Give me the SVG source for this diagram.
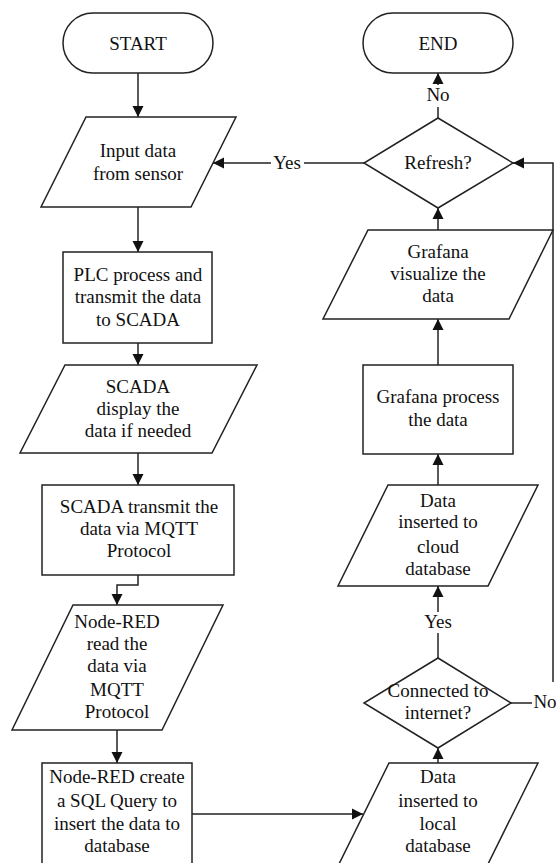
<svg xmlns="http://www.w3.org/2000/svg" width="556" height="863" viewBox="0 0 556 863">
<style>
.s{fill:#fff;stroke:#222;stroke-width:1.5}
.c{fill:none;stroke:#222;stroke-width:1.5}
text{font-family:"Liberation Serif","Times New Roman",serif;font-size:19px;fill:#111;text-anchor:middle}
</style>
<defs>
<marker id="a" markerUnits="userSpaceOnUse" markerWidth="12" markerHeight="12" refX="11" refY="6" orient="auto">
<path d="M0,0.5 L11,6 L0,11.5 z" fill="#111"/>
</marker>
</defs>
<rect width="556" height="863" fill="#fff"/>
<g id="connectors">
<path class="c" d="M138,73 V117" marker-end="url(#a)"/>
<path class="c" d="M138,207 V252" marker-end="url(#a)"/>
<path class="c" d="M138,343 V365" marker-end="url(#a)"/>
<path class="c" d="M138,453 V485" marker-end="url(#a)"/>
<path class="c" d="M138,575 V585 H117 V605" marker-end="url(#a)"/>
<path class="c" d="M117,730 V763" marker-end="url(#a)"/>
<path class="c" d="M192,814 H363" marker-end="url(#a)"/>
<path class="c" d="M438,763 V748" marker-end="url(#a)"/>
<path class="c" d="M438,658 V633"/>
<text x="438" y="628">Yes</text>
<path class="c" d="M438,612 V586" marker-end="url(#a)"/>
<path class="c" d="M438,485 V454" marker-end="url(#a)"/>
<path class="c" d="M438,365 V319" marker-end="url(#a)"/>
<path class="c" d="M438,230 V208" marker-end="url(#a)"/>
<path class="c" d="M438,118 V107"/>
<text x="438" y="101">No</text>
<path class="c" d="M438,85 V73" marker-end="url(#a)"/>
<path class="c" d="M364,163 H304"/>
<text x="287" y="169">Yes</text>
<path class="c" d="M271,163 H213" marker-end="url(#a)"/>
<path class="c" d="M511,703 H532"/>
<text x="545" y="708">No</text>
<path class="c" d="M553,682 V163 H513" marker-end="url(#a)"/>
</g>
<g id="start">
<rect class="s" x="63" y="13" width="150" height="60" rx="30"/>
<text x="138" y="50">START</text>
</g>
<g id="input">
<polygon class="s" points="86,117 236,117 191,207 41,207"/>
<text x="138" y="157">Input data</text>
<text x="138" y="180">from sensor</text>
</g>
<g id="plc">
<rect class="s" x="63" y="252" width="149" height="91"/>
<text x="138" y="281">PLC process and</text>
<text x="138" y="303">transmit the data</text>
<text x="138" y="326">to SCADA</text>
</g>
<g id="scada-display">
<polygon class="s" points="65,365 257,365 212,453 20,453"/>
<text x="138" y="393">SCADA</text>
<text x="138" y="415">display the</text>
<text x="138" y="437">data if needed</text>
</g>
<g id="scada-transmit">
<rect class="s" x="42" y="485" width="192" height="90"/>
<text x="139" y="513">SCADA transmit the</text>
<text x="139" y="535">data via MQTT</text>
<text x="139" y="557">Protocol</text>
</g>
<g id="nodered-read">
<polygon class="s" points="73,605 223,605 162,730 12,730"/>
<text x="117" y="628">Node-RED</text>
<text x="117" y="650">read the</text>
<text x="117" y="672">data via</text>
<text x="117" y="696">MQTT</text>
<text x="117" y="718">Protocol</text>
</g>
<g id="nodered-create">
<rect class="s" x="42" y="763" width="150" height="110"/>
<text x="117" y="783">Node-RED create</text>
<text x="117" y="807">a SQL Query to</text>
<text x="117" y="830">insert the data to</text>
<text x="117" y="852">database</text>
</g>
<g id="local-db">
<polygon class="s" points="389,763 538,763 488,864 339,864"/>
<text x="438" y="783">Data</text>
<text x="438" y="807">inserted to</text>
<text x="438" y="830">local</text>
<text x="438" y="852">database</text>
</g>
<g id="connected">
<polygon class="s" points="438,658 511,703 438,748 364,703"/>
<text x="438" y="697">Connected to</text>
<text x="438" y="719">internet?</text>
</g>
<g id="cloud-db">
<polygon class="s" points="388,485 538,485 488,586 338,586"/>
<text x="438" y="507">Data</text>
<text x="438" y="528">inserted to</text>
<text x="438" y="553">cloud</text>
<text x="438" y="575">database</text>
</g>
<g id="grafana-process">
<rect class="s" x="363" y="365" width="150" height="89"/>
<text x="438" y="403">Grafana process</text>
<text x="438" y="426">the data</text>
</g>
<g id="grafana-visualize">
<polygon class="s" points="368,230 553,230 509,319 323,319"/>
<text x="438" y="258">Grafana</text>
<text x="438" y="280">visualize the</text>
<text x="438" y="302">data</text>
</g>
<g id="refresh">
<polygon class="s" points="438,118 513,163 438,208 364,163"/>
<text x="438" y="169">Refresh?</text>
</g>
<g id="end">
<rect class="s" x="363" y="13" width="150" height="60" rx="30"/>
<text x="438" y="50">END</text>
</g>
</svg>
